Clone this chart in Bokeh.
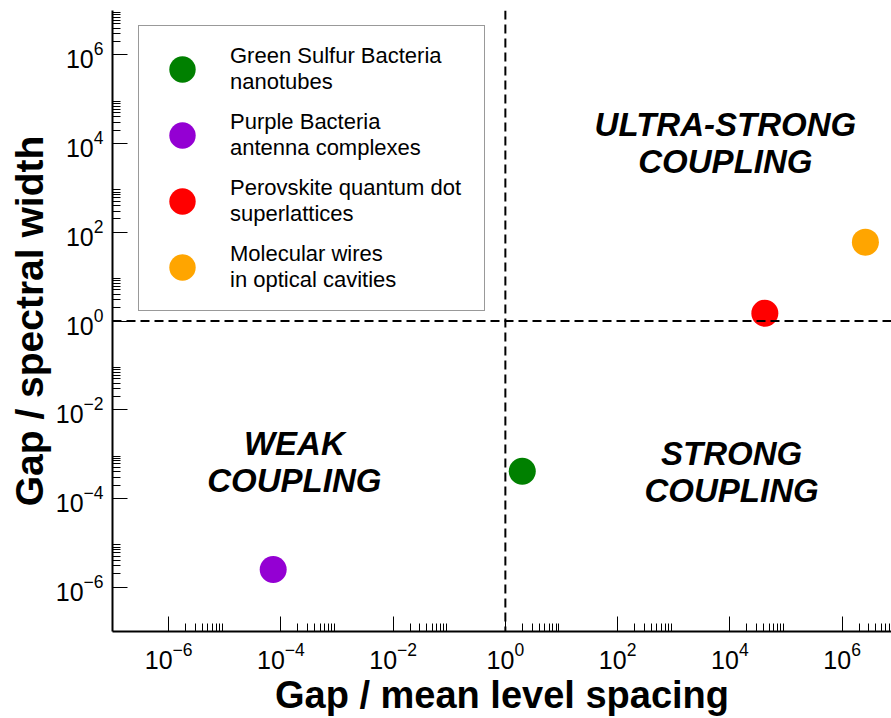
from bokeh.plotting import figure
from bokeh.models import Span, Legend, LegendItem, FixedTicker, LogTickFormatter
from bokeh.core.properties import value
from bokeh.embed import file_html
from bokeh.resources import INLINE

# Coupling-regime data for each exciton system
systems = [
    "Green Sulfur Bacteria\nnanotubes",
    "Purple Bacteria\nantenna complexes",
    "Perovskite quantum dot\nsuperlattices",
    "Molecular wires\nin optical cavities",
]
gap_over_spacing = [2.0, 7.3e-5, 4.2e4, 2.6e6]
gap_over_width = [4.1e-4, 2.5e-6, 1.5, 60.0]
colors = ["#008000", "#9400D3", "#FF0000", "#FFA500"]

# Regime boundaries
x_boundary = 1.0
y_boundary = 1.0

# Decade ticks (every second decade) with minor ticks 2..9 after each
major_exponents = [-6, -4, -2, 0, 2, 4, 6]

FONT = "Liberation Sans"

p = figure(
    width=891, height=718,
    x_axis_type="log", y_axis_type="log",
    x_range=(1e-7, 10 ** 6.88), y_range=(1e-7, 1e7),
    output_backend="svg", toolbar_location=None,
    min_border_left=112, min_border_right=0,
    min_border_top=10, min_border_bottom=86,
)
p.outline_line_color = None
p.xgrid.visible = False
p.ygrid.visible = False
p.background_fill_color = "white"
p.border_fill_color = "white"

major = [10.0 ** k for k in major_exponents]
minor = [m * 10.0 ** k for k in major_exponents for m in range(2, 10)]

for ax in (p.xaxis[0], p.yaxis[0]):
    ax.ticker = FixedTicker(ticks=major, minor_ticks=minor)
    ax.formatter = LogTickFormatter()
    ax.axis_line_width = 2
    ax.axis_line_color = "black"
    ax.major_tick_in = 15
    ax.major_tick_out = 0
    ax.minor_tick_in = 8
    ax.minor_tick_out = 0
    ax.major_tick_line_width = 1
    ax.minor_tick_line_width = 1
    ax.major_tick_line_color = "black"
    ax.minor_tick_line_color = "black"
    ax.major_label_text_font = FONT
    ax.major_label_text_font_size = "25px"
    ax.major_label_text_color = "black"
    ax.axis_label_text_font = FONT
    ax.axis_label_text_font_style = "bold"
    ax.axis_label_text_color = "black"

p.xaxis.axis_label = "Gap / mean level spacing"
p.yaxis.axis_label = "Gap / spectral width"
p.xaxis.axis_label_text_font_size = "38px"
p.yaxis.axis_label_text_font_size = "39px"
p.xaxis.major_label_standoff = 10
p.yaxis.major_label_standoff = 9
p.xaxis.axis_label_standoff = 2
p.yaxis.axis_label_standoff = 2

# Regime boundaries
p.add_layout(Span(location=x_boundary, dimension="height", line_color="black",
                  line_width=2, line_dash="9 5"))
p.add_layout(Span(location=y_boundary, dimension="width", line_color="black",
                  line_width=2, line_dash="9 5"))

# Regime names
regime_names = ["ULTRA-STRONG\nCOUPLING", "WEAK\nCOUPLING", "STRONG\nCOUPLING"]
regime_x = [10 ** 3.92, 10 ** -3.76, 10 ** 4.03]
regime_y = [10 ** 4.02, 10 ** -3.17, 10 ** -3.40]
p.text(x=regime_x, y=regime_y, text=regime_names,
       text_font=value(FONT), text_font_size="33px", text_font_style="bold italic",
       text_align="center", text_baseline="middle", text_line_height=1.0,
       text_color="black")

# Data points
items = []
for name, xv, yv, c in zip(systems, gap_over_spacing, gap_over_width, colors):
    r = p.scatter(x=[xv], y=[yv], size=27, fill_color=c, line_color=None)
    items.append(LegendItem(label=name, renderers=[r]))

legend = Legend(
    items=items, location=(26, 320),
    border_line_color="#333333", border_line_width=1,
    background_fill_color="white", background_fill_alpha=1.0,
    label_text_font=FONT, label_text_font_size="22px",
    label_text_color="black", label_text_line_height=1.0,
    glyph_width=66, glyph_height=66, label_standoff=15,
    label_width=244,
    padding=10, spacing=0, margin=0,
)
p.add_layout(legend)

open("out.html", "w").write(file_html(p, INLINE))
